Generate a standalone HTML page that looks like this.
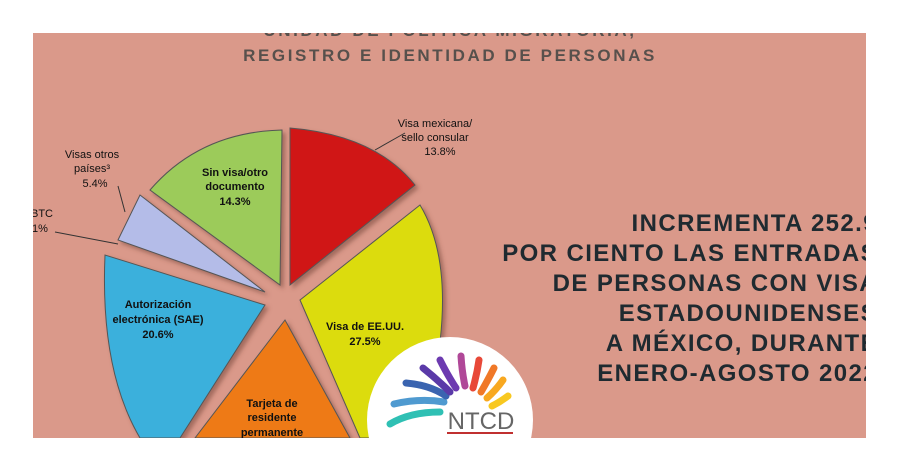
<!DOCTYPE html>
<html><head><meta charset="utf-8"><style>
html,body{margin:0;background:#fff;width:900px;height:471px;overflow:hidden;font-family:"Liberation Sans",sans-serif}
#p{position:absolute;left:33px;top:33px;width:833px;height:405px;background:#da998a;overflow:hidden}
</style></head><body>
<div id="p">
<svg width="833" height="405" viewBox="33 33 833 405" style="position:absolute;left:0;top:0;display:block">
<defs>
<filter id="sh"><feDropShadow dx="3" dy="3" stdDeviation="2" flood-color="#6b3a30" flood-opacity="0.5"/></filter>
</defs>
<g font-family="Liberation Sans" text-anchor="middle" fill="#57504c" font-size="17" font-weight="bold" letter-spacing="2.6">
<text x="450" y="36">UNIDAD DE POLÍTICA MIGRATORIA,</text>
<text x="450" y="61">REGISTRO E IDENTIDAD DE PERSONAS</text>
</g>
<g filter="url(#sh)" stroke="#555" stroke-width="1">
<path d="M280,285 L282,130 Q200,132 150,190 Z" fill="#9ccb5a"/>
<path d="M290,285 L290,128 Q375,135 415,185 Z" fill="#d01818"/>
<path d="M300,300 L420,205 Q465,280 420,438 L360,438 Z" fill="#dcdc10"/>
<path d="M285,320 L195,438 L350,438 Z" fill="#ee7a16"/>
<path d="M265,305 L105,255 Q100,370 140,438 L180,438 Z" fill="#3ab0dc"/>
<path d="M265,292 L118,240 L140,195 Z" fill="#b4bce8"/>
</g>
<g font-family="Liberation Sans" font-size="11" text-anchor="middle" fill="#111">
<text x="235" y="176" font-weight="bold">Sin visa/otro</text>
<text x="235" y="190" font-weight="bold">documento</text>
<text x="235" y="205" font-weight="bold">14.3%</text>
<text x="435" y="127">Visa mexicana/</text>
<text x="435" y="141">sello consular</text>
<text x="440" y="155">13.8%</text>
<text x="92" y="158">Visas otros</text>
<text x="92" y="172">países³</text>
<text x="95" y="187">5.4%</text>
<text x="42" y="217">BTC</text>
<text x="40" y="232">1%</text>
<text x="158" y="308" font-weight="bold">Autorización</text>
<text x="158" y="323" font-weight="bold">electrónica (SAE)</text>
<text x="158" y="338" font-weight="bold">20.6%</text>
<text x="365" y="330" font-weight="bold">Visa de EE.UU.</text>
<text x="365" y="345" font-weight="bold">27.5%</text>
<text x="272" y="407" font-weight="bold">Tarjeta de</text>
<text x="272" y="421" font-weight="bold">residente</text>
<text x="272" y="436" font-weight="bold">permanente</text>
</g>
<path d="M118,186 L125,212" stroke="#333" fill="none"/>
<path d="M55,232 L118,244" stroke="#333" fill="none"/>
<path d="M405,133 L375,150" stroke="#333" fill="none"/>
<g font-family="Liberation Sans" font-size="24" font-weight="bold" text-anchor="end" fill="#1f2a30" letter-spacing="1.4">
<text x="878" y="231">INCREMENTA 252.9</text>
<text x="878" y="261">POR CIENTO LAS ENTRADAS</text>
<text x="878" y="291">DE PERSONAS CON VISA</text>
<text x="878" y="321">ESTADOUNIDENSES</text>
<text x="878" y="351">A MÉXICO, DURANTE</text>
<text x="878" y="381">ENERO-AGOSTO 2022</text>
</g>
<circle cx="450" cy="420" r="83" fill="#fff"/>
<g fill="none" stroke-linecap="round" stroke-width="7">
<path d="M390,424 Q410,412 440,412" stroke="#2fc0b4"/>
<path d="M394,404 Q420,398 444,402" stroke="#4f9ad0"/>
<path d="M406,383 Q430,385 446,396" stroke="#3a64b0"/>
<path d="M423,368 Q438,380 450,392" stroke="#5a3aa8"/>
<path d="M440,360 Q448,376 456,388" stroke="#6c3ab0"/>
<path d="M461,356 Q462,372 465,386" stroke="#b04898"/>
<path d="M479,360 Q477,374 473,388" stroke="#e84838"/>
<path d="M494,368 Q488,380 481,392" stroke="#f07828"/>
<path d="M503,380 Q496,390 487,398" stroke="#f8a820"/>
<path d="M508,396 Q500,402 492,406" stroke="#f8c820"/>
</g>
<text x="481" y="429" font-family="Liberation Sans" font-size="24" fill="#666" text-anchor="middle">NTCD</text>
<line x1="447" y1="433" x2="513" y2="433" stroke="#c03030" stroke-width="2"/>
</svg>
</div>
</body></html>
